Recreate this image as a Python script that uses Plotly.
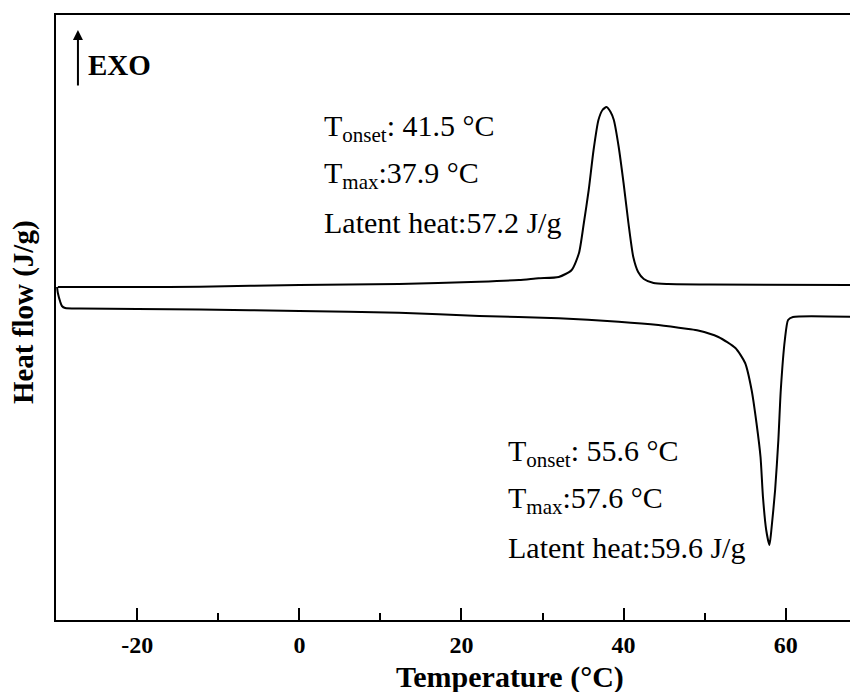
import plotly.graph_objects as go

# cooling scan (exothermic peak)
cool_t = [-29.8, -20, -12.3, 0, 12.3, 22.2, 27.1, 29.5, 32.0, 33.6, 34.5, 35.1, 35.7, 36.3, 36.9, 37.4,
          37.9, 38.4, 38.8, 39.4, 40.0, 40.6, 41.2, 41.8, 42.5, 43.7, 45.5, 50.5, 68.7]
cool_hf = [0.13, 0.13, 0.133, 0.15, 0.16, 0.183, 0.20, 0.217, 0.23, 0.30, 0.47, 0.77, 1.10, 1.50, 1.80, 1.90,
           1.93, 1.88, 1.80, 1.53, 1.17, 0.77, 0.43, 0.28, 0.21, 0.17, 0.16, 0.155, 0.15]

# heating scan (endothermic peak)
heat_t = [-29.9, -29.8, -29.5, -29.3, -28.9, -27.1, -20, -12.3, 0, 12.3, 22.2, 32.0, 39.4, 44.3, 48.0, 49.2,
          51.7, 53.8, 55.0, 55.8, 56.4, 56.9, 57.2, 57.6, 58.0, 58.2, 58.7, 59.1, 59.4, 59.9, 60.3, 60.9, 68.7]
heat_hf = [0.13, 0.07, -0.02, -0.06, -0.08, -0.085, -0.09, -0.095, -0.11, -0.128, -0.16, -0.183, -0.217, -0.25,
           -0.29, -0.305, -0.37, -0.48, -0.63, -0.90, -1.23, -1.57, -1.97, -2.30, -2.45, -2.33, -1.90, -1.40,
           -0.90, -0.40, -0.20, -0.17, -0.17]

major_ticks = [-20, 0, 20, 40, 60]
major_labels = ['-20', '0', '20', '40', '60']
minor_ticks = [-10, 10, 30, 50]

cool_text = ['T<sub>onset</sub>: 41.5 °C', 'T<sub>max</sub>:37.9 °C', 'Latent heat:57.2 J/g']
heat_text = ['T<sub>onset</sub>: 55.6 °C', 'T<sub>max</sub>:57.6 °C', 'Latent heat:59.6 J/g']

FONT = 'Liberation Serif, Times New Roman, serif'
OFF = 8  # page body margin
W, H = 858 - OFF, 692 - OFF
L, T, R, B = 56, 15, 858, 620  # plot area on the page


def px_x(px):
    return (px - L) / (R - L)


def px_y(py):
    return (B - py) / (B - T)


fig = go.Figure()
fig.add_trace(go.Scatter(x=cool_t, y=cool_hf, mode='lines', line=dict(color='black', width=2, shape='spline', smoothing=0.6)))
fig.add_trace(go.Scatter(x=heat_t, y=heat_hf, mode='lines', line=dict(color='black', width=2, shape='spline', smoothing=0.6)))

fig.update_xaxes(
    range=[-30.03, 68.68],
    tickvals=major_ticks, ticktext=major_labels,
    ticks='inside', ticklen=12, tickwidth=2, tickcolor='black',
    minor=dict(tickvals=minor_ticks, ticks='inside', ticklen=7, tickwidth=2, tickcolor='black'),
    showline=True, linecolor='black', linewidth=2, mirror=True,
    showgrid=False, zeroline=False, ticklabelstandoff=2,
    tickfont=dict(family=FONT, size=24, color='black', weight='bold'),
)
fig.update_yaxes(
    range=[-3.2, 2.85],
    showticklabels=False, ticks='',
    showline=True, linecolor='black', linewidth=2, mirror=True,
    showgrid=False, zeroline=False,
)

for i, txt in enumerate(cool_text):
    fig.add_annotation(x=px_x(323), y=px_y(128 + 47 * i), xref='paper', yref='paper', text=txt,
                       showarrow=False, xanchor='left', yanchor='middle',
                       font=dict(family=FONT, size=30, color='black'))
for i, txt in enumerate(heat_text):
    fig.add_annotation(x=px_x(507), y=px_y(453 + 47 * i), xref='paper', yref='paper', text=txt,
                       showarrow=False, xanchor='left', yanchor='middle',
                       font=dict(family=FONT, size=30, color='black'))

# EXO arrow
fig.add_annotation(x=px_x(78), y=px_y(30), xref='paper', yref='paper', ax=0, ay=57, text='',
                   showarrow=True, arrowhead=2, arrowsize=1, arrowwidth=2, arrowcolor='black')
fig.add_annotation(x=px_x(86), y=px_y(65), xref='paper', yref='paper', text='<b>EXO</b>',
                   showarrow=False, xanchor='left', yanchor='middle',
                   font=dict(family=FONT, size=29, color='black'))

# axis titles
fig.add_annotation(x=px_x(511), y=px_y(677), xref='paper', yref='paper', text='<b>Temperature (°C)</b>',
                   showarrow=False, xanchor='center', yanchor='middle',
                   font=dict(family=FONT, size=30, color='black'))
fig.add_annotation(x=px_x(23), y=px_y(312), xref='paper', yref='paper', text='<b>Heat flow (J/g)</b>',
                   showarrow=False, xanchor='center', yanchor='middle', textangle=-90,
                   font=dict(family=FONT, size=29, color='black'))

fig.update_layout(
    width=W, height=H,
    showlegend=False,
    margin=dict(l=L - OFF, r=W - (R - OFF), t=T - OFF, b=H - (B - OFF)),
    paper_bgcolor='white', plot_bgcolor='white',
)
fig.write_html('out.html')
